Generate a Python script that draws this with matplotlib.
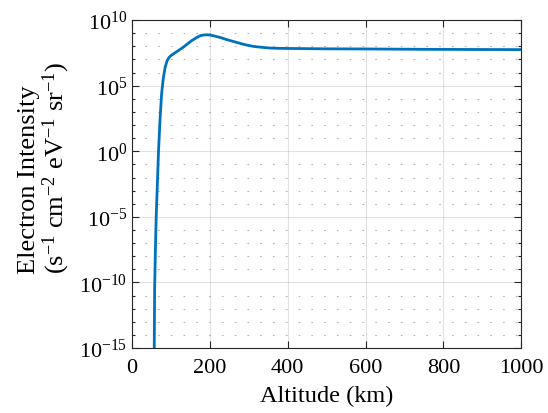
import numpy as np
import matplotlib
matplotlib.use("Agg")
import matplotlib.pyplot as plt
from matplotlib.ticker import LogFormatterMathtext, NullFormatter, FixedLocator

plt.rcParams['font.family'] = ['Liberation Serif', 'DejaVu Serif']
plt.rcParams['mathtext.fontset'] = 'custom'
plt.rcParams['mathtext.rm'] = 'Liberation Serif'
plt.rcParams['mathtext.it'] = 'Liberation Serif:italic'

# altitude (km) and log10 of electron intensity
altitude = [56, 57, 58, 60, 62, 65, 68, 72, 76, 80, 85, 90, 95, 100, 110,
            120, 131, 142, 153, 165, 175, 185, 192, 200, 210, 226, 245, 269,
            290, 311, 335, 355, 375, 398, 500, 600, 766, 1000]
log_intensity = [-18, -15, -10.5, -7.5, -5, -2.5, 0, 2.5, 4.4, 5.5, 6.4, 6.9,
                 7.15, 7.3, 7.5, 7.7, 7.92, 8.18, 8.43, 8.65, 8.81, 8.87,
                 8.88, 8.86, 8.8, 8.68, 8.5, 8.3, 8.13, 8.0, 7.92, 7.87,
                 7.85, 7.84, 7.81, 7.8, 7.77, 7.75]

intensity = 10.0 ** np.array(log_intensity)

fig = plt.figure(figsize=(5.48, 4.14), dpi=100)
ax = fig.add_axes([0.241, 0.157, 0.71, 0.792])

ax.plot(altitude, intensity, color='#0072BD', lw=2)
ax.set_yscale('log')
ax.set_xlim(0, 1000)
ax.set_ylim(1e-15, 1e10)

ax.xaxis.set_major_locator(FixedLocator([0, 200, 400, 600, 800, 1000]))
ax.yaxis.set_major_locator(FixedLocator([10.0 ** k for k in range(-15, 11, 5)]))
ax.yaxis.set_major_formatter(LogFormatterMathtext())
ax.yaxis.set_minor_locator(FixedLocator([10.0 ** k for k in range(-15, 11)]))
ax.yaxis.set_minor_formatter(NullFormatter())

ax.grid(True, which='major', color='#262626', alpha=0.13, lw=0.8)
ax.grid(True, which='minor', axis='y', color='#262626', alpha=0.35, lw=0.8,
        linestyle=(0, (1.5, 10)))
ax.tick_params(which='both', direction='in', top=True, right=True,
               labelsize=16, color='#262626', width=0.8)
ax.tick_params(which='major', length=5)
ax.tick_params(which='minor', length=2.5)
ax.tick_params(axis='x', pad=7)
for s in ax.spines.values():
    s.set_color('#262626')
    s.set_linewidth(0.8)

ax.set_xlabel('Altitude (km)', fontsize=17.5, labelpad=6)
ax.set_ylabel('Electron Intensity\n(s$^{-1}$ cm$^{-2}$ eV$^{-1}$ sr$^{-1}$)',
              fontsize=19, linespacing=1.05, multialignment='left')
ax.yaxis.set_label_coords(-0.154, 0.552)

fig.savefig('out.png', dpi=100)
